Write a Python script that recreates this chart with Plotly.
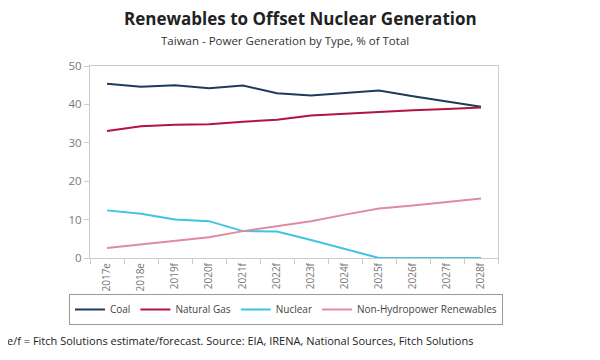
import plotly.graph_objects as go

years = ["2017e", "2018e", "2019f", "2020f", "2021f", "2022f", "2023f", "2024f", "2025f", "2026f", "2027f", "2028f"]
coal = [45.4, 44.6, 45.0, 44.2, 44.9, 42.9, 42.3, 43.0, 43.6, 42.1, 40.8, 39.4]
natural_gas = [33.1, 34.3, 34.7, 34.8, 35.5, 36.0, 37.1, 37.6, 38.0, 38.5, 38.8, 39.2]
nuclear = [12.4, 11.5, 10.0, 9.6, 7.0, 6.9, 4.7, 2.4, 0.0, 0.0, 0.0, 0.0]
renewables = [2.6, 3.5, 4.4, 5.4, 7.0, 8.3, 9.6, 11.3, 12.9, 13.7, 14.6, 15.5]

series = [
    ("Coal", coal, "#1f3b5c"),
    ("Natural Gas", natural_gas, "#b3133f"),
    ("Nuclear", nuclear, "#3fc3e3"),
    ("Non-Hydropower Renewables", renewables, "#e08aa5"),
]

# page body has an 8px margin; work in page coordinates and subtract it
OFF = 8
W, H = 600 - OFF, 360 - OFF
PL, PR, PT, PB = 90, 498, 66, 258  # plot area in page pixels


def px(x):
    return (x - OFF) / W


def py(y):
    return 1 - (y - OFF) / H


fig = go.Figure()
for name, vals, color in series:
    fig.add_trace(go.Scatter(x=years, y=vals, name=name, mode="lines",
                             line=dict(color=color, width=2)))

fig.update_layout(
    width=W, height=H,
    margin=dict(l=0, r=0, t=0, b=0, pad=0, autoexpand=False),
    paper_bgcolor="white", plot_bgcolor="white",
    font=dict(family="Open Sans, Noto Sans, sans-serif", color="#333333"),
    showlegend=True,
    legend=dict(orientation="h", x=px(286), xanchor="center", y=py(309.5), yanchor="middle",
                bordercolor="#9a9a9a", borderwidth=1, font=dict(size=10, color="#444444"),
                tracegroupgap=0, itemwidth=30),
    annotations=[
        dict(text="<b>Renewables to Offset Nuclear Generation</b>", xref="paper", yref="paper",
             x=px(300), y=py(18), xanchor="center", yanchor="middle",
             showarrow=False, font=dict(size=17, color="#222222")),
        dict(text="Taiwan - Power Generation by Type, % of Total", xref="paper", yref="paper",
             x=px(285), y=py(40), xanchor="center", yanchor="middle",
             showarrow=False, font=dict(size=11.5, color="#333333")),
        dict(text="e/f = Fitch Solutions estimate/forecast. Source: EIA, IRENA, National Sources, Fitch Solutions",
             xref="paper", yref="paper", x=px(5), y=py(340),
             xanchor="left", yanchor="middle", showarrow=False,
             font=dict(size=11, color="#222222")),
    ],
)
fig.update_xaxes(
    type="category", range=[-0.5, 11.5], tickangle=-90, automargin=False,
    domain=[px(PL), px(PR)],
    showline=True, linecolor="#cccccc", mirror=True,
    ticks="outside", tickson="boundaries", ticklen=5, tickcolor="#cccccc",
    showgrid=False, tickfont=dict(size=10, color="#777777"),
)
fig.update_yaxes(
    range=[0, 50], dtick=10, automargin=False,
    domain=[py(PB), py(PT)],
    showline=True, linecolor="#cccccc", mirror=True,
    ticks="outside", ticklen=5, tickcolor="#cccccc",
    showgrid=False, zeroline=False, tickfont=dict(size=11.5, color="#777777"),
)

fig.write_html("out.html", config={"displayModeBar": False})
